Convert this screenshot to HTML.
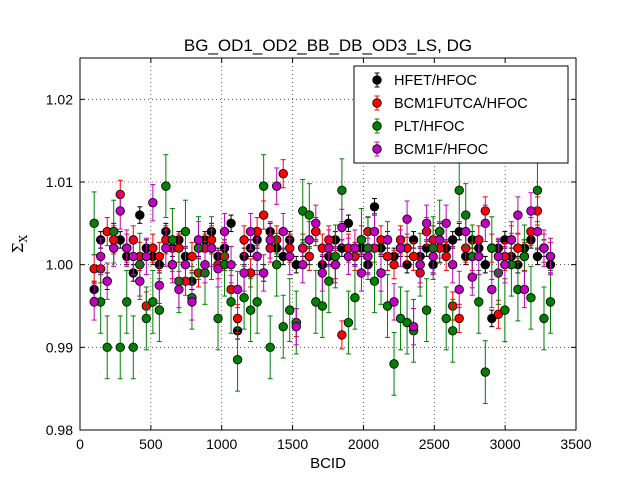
<!DOCTYPE html>
<html><head><meta charset="utf-8"><style>
html,body{margin:0;padding:0;background:#fff;}
svg{display:block;font-family:"Liberation Sans","DejaVu Sans",sans-serif;}
</style></head><body>
<svg id="chart" width="640" height="480" viewBox="0 0 640 480" xmlns="http://www.w3.org/2000/svg">
<rect x="0" y="0" width="640" height="480" fill="#fff"/>
<text x="328" y="51" font-size="17" text-anchor="middle">BG_OD1_OD2_BB_DB_OD3_LS, DG</text>
<g id="grid"></g>
<g id="marks"></g>
<rect x="80" y="58" width="496" height="372" fill="none" stroke="#000" stroke-width="1"/>
<g id="axes"></g>
<text x="328" y="468" font-size="15" text-anchor="middle">BCID</text>
<text transform="translate(23,244) rotate(-90)" font-size="15" text-anchor="middle" font-family="DejaVu Serif, serif">Σ<tspan font-size="11" dy="4">X</tspan></text>
<g id="legend"></g>
</svg>
<script>
const bcids=[100,146,192,238,284,330,376,422,468,514,560,606,652,698,744,790,836,882,928,974,1020,1066,1112,1158,1204,1250,1296,1342,1388,1434,1480,1526,1572,1618,1664,1710,1756,1802,1848,1894,1940,1986,2032,2078,2124,2170,2216,2262,2308,2354,2400,2446,2492,2538,2584,2630,2676,2722,2768,2814,2860,2906,2952,2998,3044,3090,3136,3182,3228,3274,3320];
const hfet=[0.997,1.003,0.998,1.004,1.003,1.001,0.999,1.006,1.002,1.001,1.000,1.004,1.002,1.003,1.001,0.998,1.002,1.003,1.004,1.001,1.002,1.005,0.992,1.001,1.002,1.003,0.999,1.004,1.002,1.001,1.003,1.000,1.002,1.001,1.004,1.000,1.001,1.003,1.002,1.005,1.001,1.002,1.000,1.007,1.002,1.003,1.001,1.002,1.000,1.003,1.001,1.002,1.000,1.004,1.002,1.003,1.004,1.001,1.003,1.002,1.000,0.9935,1.002,1.003,1.001,1.000,1.002,1.003,1.001,1.002,1.000];
const bcm1futca=[0.9995,0.9995,1.004,1.003,1.0085,1.002,1.003,1.001,0.995,1.002,1.001,1.003,1.000,1.002,0.998,1.001,0.999,1.002,1.003,1.000,1.001,0.997,0.9935,1.003,0.999,1.004,1.006,1.002,1.003,1.011,1.002,0.993,1.002,1.001,1.004,1.002,1.003,1.000,0.9915,1.002,1.001,1.003,1.004,1.002,1.003,1.001,1.000,1.003,1.002,1.001,0.999,1.004,1.003,1.002,1.001,0.995,0.9935,1.002,1.001,1.003,1.0065,1.002,0.994,1.001,1.003,1.002,1.001,1.004,1.0065,1.002,1.001];
const plt=[1.005,0.9955,0.990,1.004,0.990,0.9955,0.990,1.000,0.9935,0.9955,0.9945,1.0095,1.003,0.998,1.004,0.996,1.002,0.999,1.002,0.9935,1.000,0.9955,0.9885,0.996,0.9945,0.9955,1.0095,0.990,1.000,0.9925,0.9945,0.993,1.0065,1.006,0.9955,0.995,0.998,1.001,1.009,0.993,0.996,1.003,1.002,0.998,0.999,0.995,0.988,0.9935,0.993,0.992,1.000,0.9945,1.002,1.004,0.9935,0.992,1.009,1.006,1.001,0.9955,0.987,1.002,0.999,0.9945,1.000,0.997,1.001,0.996,1.009,0.9935,0.9955];
const bcm1f=[0.9955,1.001,0.998,1.002,1.0065,1.002,1.001,0.998,1.001,1.0075,0.9975,1.002,1.000,0.997,1.000,0.9955,1.003,1.000,1.002,0.9995,1.004,1.000,0.997,0.999,1.004,1.001,0.999,1.003,1.0095,1.004,1.001,0.9925,1.000,1.003,1.005,0.999,1.002,1.000,1.0045,1.001,1.002,0.999,1.001,1.004,0.999,1.003,0.9955,1.002,1.0055,0.9925,1.000,1.005,1.001,1.003,1.005,1.000,0.997,1.004,0.9985,1.001,1.005,0.997,1.001,1.000,1.003,1.006,0.997,1.0065,1.004,1.002,1.001];
const seriesNames=["HFET/HFOC","BCM1FUTCA/HFOC","PLT/HFOC","BCM1F/HFOC"];
const seriesErrors=[0.001,0.0017,0.0038,0.0022];
const seriesColors=["#000000","#ff0000","#008000","#bf00bf"];
const xTicks=[0,500,1000,1500,2000,2500,3000,3500];
const yTicks=[0.98,0.99,1.00,1.01,1.02];
const yTickLabels=["0.98","0.99","1.00","1.01","1.02"];

const L=80,R=576,T=58,B=430,X0=0,X1=3500,Y0=0.98,Y1=1.025;
const sx=v=>L+(v-X0)/(X1-X0)*(R-L);
const sy=v=>B-(v-Y0)/(Y1-Y0)*(B-T);
const NS="http://www.w3.org/2000/svg";
function mk(tag,attrs,parent){const e=document.createElementNS(NS,tag);for(const k in attrs)e.setAttribute(k,attrs[k]);parent.appendChild(e);return e;}
const grid=document.getElementById('grid'),axes=document.getElementById('axes'),marks=document.getElementById('marks'),legend=document.getElementById('legend');
xTicks.forEach((t,i)=>{const x=sx(t);
 if(i>0&&i<xTicks.length-1){const g=mk('line',{x1:x,x2:x,y1:T,y2:B,stroke:'#000','stroke-dasharray':'1,3','stroke-width':0.6},grid);}
 mk('line',{x1:x,x2:x,y1:B,y2:B-5,stroke:'#000'},axes);mk('line',{x1:x,x2:x,y1:T,y2:T+5,stroke:'#000'},axes);
 const tx=mk('text',{x:x,y:B+19,'font-size':14,'text-anchor':'middle'},axes);tx.textContent=t;
 });
yTicks.forEach((t,i)=>{const y=sy(t);
 const g=mk('line',{x1:L,x2:R,y1:y,y2:y,stroke:'#000','stroke-dasharray':'1,3','stroke-width':0.6},grid);
 mk('line',{x1:L,x2:L+5,y1:y,y2:y,stroke:'#000'},axes);mk('line',{x1:R,x2:R-5,y1:y,y2:y,stroke:'#000'},axes);
 const tx=mk('text',{x:L-7,y:y+5,'font-size':14,'text-anchor':'end'},axes);tx.textContent=yTickLabels[i];
 });
const allSeries=[hfet,bcm1futca,plt,bcm1f];
allSeries.forEach((vals,si)=>{const g=mk('g',{},marks);
 
 
 const n=Math.min(vals.length,bcids.length),e=seriesErrors[si],c=seriesColors[si];
 for(let i=0;i<n;i++){const x=sx(bcids[i]),y=sy(vals[i]),y1=sy(vals[i]+e),y2=sy(vals[i]-e);
  mk('line',{x1:x,x2:x,y1:y1,y2:y2,stroke:c,'stroke-width':1},g);
  mk('line',{x1:x-2.5,x2:x+2.5,y1:y1,y2:y1,stroke:c,'stroke-width':1},g);
  mk('line',{x1:x-2.5,x2:x+2.5,y1:y2,y2:y2,stroke:c,'stroke-width':1},g);
  const p=mk('circle',{cx:x,cy:y,r:4.3,fill:c,stroke:'#000','stroke-width':0.8},g);
  }
});
mk('rect',{x:354,y:66,width:214,height:97,fill:'#fff',stroke:'#000','stroke-width':1},legend);
seriesNames.forEach((nm,i)=>{const y=80+i*23,c=seriesColors[i];
 const g=mk('g',{},legend);
 mk('line',{x1:377,x2:377,y1:y-7,y2:y+7,stroke:c},g);
 mk('line',{x1:374.5,x2:379.5,y1:y-7,y2:y-7,stroke:c},g);
 mk('line',{x1:374.5,x2:379.5,y1:y+7,y2:y+7,stroke:c},g);
 mk('circle',{cx:377,cy:y,r:4.3,fill:c,stroke:'#000','stroke-width':0.8},g);
 const t=mk('text',{x:394,y:y+5,'font-size':14.5},g);t.textContent=nm;});
</script>
</body></html>
